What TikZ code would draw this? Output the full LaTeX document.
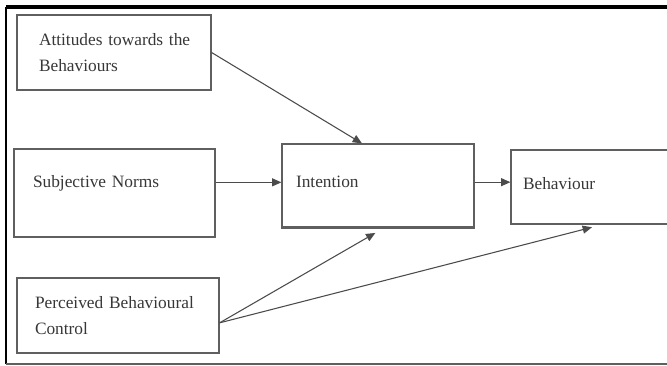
\documentclass[tikz,border=0pt]{standalone}
\usepackage{fontspec}
\setmainfont{Liberation Serif}
\usepackage{tikz}
\usetikzlibrary{arrows,arrows.meta}
\definecolor{boxgrey}{RGB}{95,95,95}
\definecolor{txtgrey}{RGB}{55,55,55}
\definecolor{arrgrey}{RGB}{75,75,75}

\begin{document}
\begin{tikzpicture}[x=0.75pt,y=0.75pt,yscale=-1,xscale=1,
  box/.style={draw=boxgrey, line width=0.9pt, align=left, inner ysep=0pt,
    text=txtgrey, font=\fontsize{13}{20}\selectfont},
  link/.style={draw=arrgrey, line width=0.8pt, -{Triangle[length=7pt,width=6pt]}}]
\useasboundingbox (0,0) rectangle (667,365);
\clip (0,0) rectangle (667,365);

%Outer frame
\draw [line width=3pt] (6,7) -- (680,7) ;
\draw [line width=2.2pt] (6,7) -- (6,364) ;
\draw [draw=boxgrey, line width=0.8pt] (6,364) -- (680,364) ;

%Boxes
\node [box, text width=112.5pt, inner xsep=16.5pt, minimum height=56.25pt] (att) at (114,52.5) {\mbox{Attitudes towards the}\\Behaviours};
\node [box, text width=122.25pt, inner xsep=14.25pt, minimum height=66pt, text depth=17pt] (subj) at (114.5,193) {Subjective Norms};
\node [box, text width=123pt, inner xsep=10.5pt, minimum height=62.25pt, text depth=5pt] (int) at (378,185.5) {Intention};
\node [box, text width=124.5pt, inner xsep=9pt, minimum height=55.5pt, text depth=5pt] (beh) at (606,187) {Behaviour};
\node [box, text width=124.5pt, inner xsep=13.5pt, minimum height=56.25pt] (pbc) at (118,315.5) {Perceived Behavioural\\Control};
\draw [draw=boxgrey, line width=1.6pt] (int.south west) -- (int.south east) ;

%Arrows (yscale=-1, so a shift downwards is a positive yshift)
\draw [link] (att.east) -- ([xshift=-12pt]int.north) ;
\draw [link] ([yshift=-8pt]subj.east) -- ([yshift=-8pt]subj.east -| int.west) ;
\draw [link] ([yshift=-2.5pt]int.east) -- ([yshift=-2.5pt]int.east -| beh.west) ;
\draw [link] ([yshift=5.5pt]pbc.east) -- ([xshift=-2pt,yshift=4pt]int.south) ;
\draw [link] ([yshift=5.5pt]pbc.east) -- ([xshift=-10.5pt,yshift=2pt]beh.south) ;

\end{tikzpicture}
\end{document}
